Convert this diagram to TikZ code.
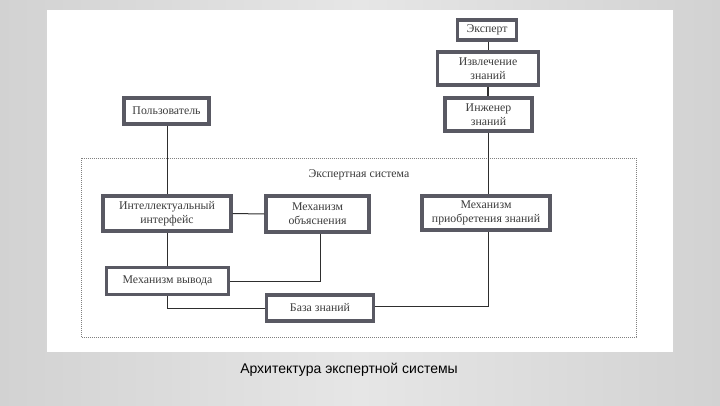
\documentclass[tikz,border=0pt]{standalone}
\usepackage{fontspec}
\setmainfont{Liberation Serif}
\newfontfamily\capfont{Liberation Sans}
\begin{document}
\begin{tikzpicture}[x=1pt,y=-1pt,
  box/.style={draw=boxc, line width=3.2pt, fill=white, inner sep=1pt, align=center,
    font=\fontsize{11.8}{14}\selectfont, text=txtc},
  conn/.style={draw=linec, line width=1pt}]
\definecolor{boxc}{HTML}{595963}
\definecolor{txtc}{HTML}{3C3C3C}
\definecolor{linec}{HTML}{2E2E2E}
\definecolor{bgside}{HTML}{D2D2D2}
\definecolor{bgmid}{HTML}{E6E6E6}
\useasboundingbox (0,0) rectangle (720,405);
\shade[left color=bgside, right color=bgside, middle color=bgmid] (0,0) rectangle (720,405);
\fill[white] (47,10) rectangle (673,352);
% frame
\draw[gray, line width=0.8pt, dash pattern=on 0.9pt off 1.1pt] (81,158) rectangle (636,337);
\node[font=\fontsize{11.8}{14}\selectfont, text=txtc] (title) at (359,175) {Экспертная система};
% nodes
\node[box, minimum width=59, minimum height=20] (exp) at (487,30) {Эксперт};
\node[box, minimum width=101, minimum height=33] (izv) at (488,68.5) {Извлечение\\знаний};
\node[box, minimum width=87, minimum height=33] (inzh) at (488.5,114.5) {Инженер\\знаний};
\node[box, minimum width=85, minimum height=26] (user) at (166.5,111) {Пользователь};
\node[box, minimum width=128, minimum height=35] (intf) at (167,213.5) {Интеллектуальный\\интерфейс};
\node[box, minimum width=103, minimum height=36] (expl) at (317.5,214) {Механизм\\объяснения};
\node[box, minimum width=128, minimum height=34] (acq) at (486,213) {Механизм\\приобретения знаний};
\node[box, minimum width=122, minimum height=27] (vyv) at (167.5,281) {Механизм вывода};
\node[box, minimum width=107, minimum height=26] (kb) at (320,308) {База знаний};
\coordinate (ux) at (167,0);
\coordinate (ex) at (320,0);
\coordinate (ax) at (488,0);
% connectors
\draw[conn] (izv.north |- exp.south) -- (izv.north);
\draw[conn, line width=2.4pt] (izv.south) -- (izv.south |- inzh.north);
\draw[conn] (ax |- inzh.south) -- (ax |- acq.north);
\draw[conn] (ux |- user.south) -- (ux |- intf.north);
\draw[conn] (intf.east) -- (expl.west);
\draw[conn] (ux |- intf.south) -- (ux |- vyv.north);
\draw[conn] (ex |- expl.south) |- (vyv.east);
\draw[conn] (ux |- vyv.south) |- (kb.west);
\draw[conn] ([yshift=2]kb.east) -| (ax |- acq.south);
\node[font=\capfont\fontsize{14}{16}\selectfont, text=black] (cap) at (349,370) {Архитектура экспертной системы};
\end{tikzpicture}
\end{document}
